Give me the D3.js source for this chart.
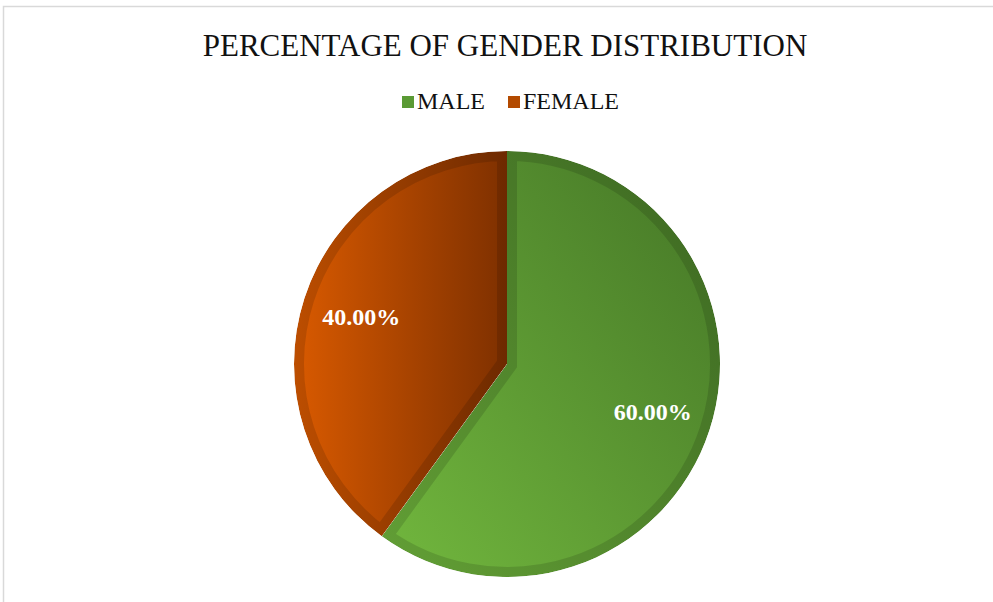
<!DOCTYPE html>
<html>
<head>
<meta charset="utf-8">
<script src="https://cdn.jsdelivr.net/npm/d3@7"></script>
<style>
  body { margin: 0; background: #fff; }
</style>
</head>
<body>
<div class="draw"></div>
<script>
// chart data
const categories = ["MALE", "FEMALE"];
const values = [60, 40];
const labels = ["60.00%", "40.00%"];

const width = 993, height = 602;
const cx = 507, cy = 364, radius = 213;

const svg = d3.select(".draw")
    .append("svg")
    .attr("width", width)
    .attr("height", height);

// frame
svg.append("path")
    .attr("d", `M3.5,${height} V6.5 H${width}`)
    .attr("fill", "none")
    .attr("stroke", "#d9d9d9")
    .attr("stroke-width", 1.5);

const defs = svg.append("defs");

const maleGrad = defs.append("linearGradient")
    .attr("id", "grad-male")
    .attr("x1", 0).attr("y1", 1).attr("x2", 1).attr("y2", 0);
maleGrad.append("stop").attr("offset", "0%").attr("stop-color", "#72b83e");
maleGrad.append("stop").attr("offset", "100%").attr("stop-color", "#447526");

const femaleGrad = defs.append("linearGradient")
    .attr("id", "grad-female")
    .attr("x1", 0).attr("y1", 0).attr("x2", 1).attr("y2", 0);
femaleGrad.append("stop").attr("offset", "0%").attr("stop-color", "#d95a00");
femaleGrad.append("stop").attr("offset", "100%").attr("stop-color", "#7e3000");

const fills = ["url(#grad-male)", "url(#grad-female)"];
const legendColors = ["#5a9a34", "#b34a00"];

// title
svg.append("text")
    .attr("x", 505)
    .attr("y", 56)
    .attr("text-anchor", "middle")
    .attr("font-family", "Liberation Serif, Times New Roman, serif")
    .attr("font-size", 31)
    .attr("fill", "#111")
    .text("PERCENTAGE OF GENDER DISTRIBUTION");

// legend
const legendX = [402, 508];
const legend = svg.append("g");
categories.forEach((c, i) => {
  const g = legend.append("g").attr("transform", `translate(${legendX[i]}, 96)`);
  g.append("rect")
      .attr("width", 12).attr("height", 12)
      .attr("fill", legendColors[i]);
  g.append("text")
      .attr("x", 15).attr("y", 12.5)
      .attr("font-family", "Liberation Serif, Times New Roman, serif")
      .attr("font-size", 24)
      .attr("fill", "#111")
      .text(c);
});

const pie = d3.pie().sort(null).value(d => d);
const arcs = pie(values);

const arc = d3.arc().innerRadius(0).outerRadius(radius);
const labelArc = d3.arc().innerRadius(radius * 0.72).outerRadius(radius * 0.72);

const graph = svg.append("g").attr("transform", `translate(${cx}, ${cy})`);

arcs.forEach((d, i) => {
  defs.append("clipPath")
      .attr("id", "clip" + i)
      .append("path")
      .attr("d", arc(d));

  const g = graph.append("g").attr("clip-path", `url(#clip${i})`);
  g.append("path")
      .attr("d", arc(d))
      .attr("fill", fills[i]);
  // bevel band along the edges
  g.append("path")
      .attr("d", arc(d))
      .attr("fill", "none")
      .attr("stroke", "#000")
      .attr("stroke-opacity", 0.13)
      .attr("stroke-width", 20)
      .attr("stroke-linejoin", "miter");
});

graph.selectAll(".lbl")
    .data(arcs)
    .enter()
    .append("text")
    .attr("class", "lbl")
    .attr("transform", d => `translate(${labelArc.centroid(d)})`)
    .attr("text-anchor", "middle")
    .attr("dy", "0.35em")
    .attr("font-family", "Liberation Serif, Times New Roman, serif")
    .attr("font-weight", "bold")
    .attr("font-size", 24)
    .attr("fill", "#fff")
    .text((d, i) => labels[i]);
</script>
</body>
</html>
